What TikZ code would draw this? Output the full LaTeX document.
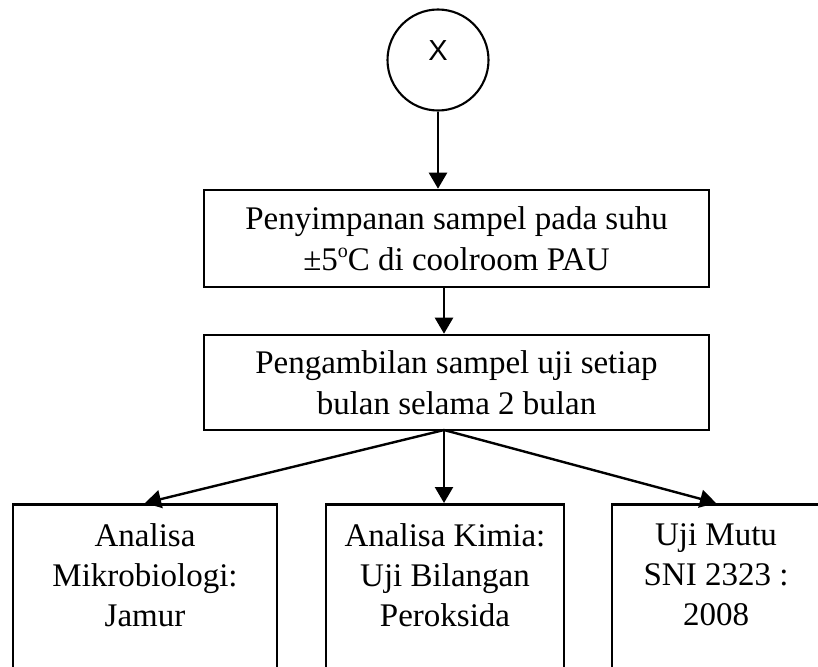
\documentclass[tikz,border=0pt]{standalone}
\usepackage{fontspec}
\setmainfont{Liberation Serif}
\newfontfamily\xsans{Liberation Sans}
\usetikzlibrary{arrows.meta}
\tikzset{
  flowbox/.style={draw, line width=2.6pt, inner sep=0pt, align=center,
    font=\fontsize{33}{41}\selectfont},
  openbox/.style={draw, line width=2.6pt, inner sep=0pt, anchor=north},
  boxtext/.style={inner sep=0pt, align=center, anchor=north,
    font=\fontsize{33}{40}\selectfont},
  flowarrow/.style={line width=2.4pt, -{Triangle[length=16pt,width=18pt]}}
}
\begin{document}
\begin{tikzpicture}[x=1pt,y=-1pt]
\useasboundingbox (0,0) rectangle (818,666);
\clip (0,0) rectangle (818,666);
\node[draw, circle, line width=2.1pt, minimum size=101pt, inner sep=0pt,
  text depth=19pt, font=\xsans\fontsize{29}{29}\selectfont] (c) at (438,60) {X};
\node[flowbox, minimum width=505pt, minimum height=97pt] (b1) at (456.5,238.5)
  {Penyimpanan sampel pada suhu\\ ±5\raisebox{13pt}{\fontsize{20}{20}\selectfont o}C di coolroom PAU};
\node[flowbox, minimum width=505pt, minimum height=95pt] (b2) at (456.5,382.5)
  {Pengambilan sampel uji setiap\\ bulan selama 2 bulan};
\node[openbox, minimum width=264pt, minimum height=200pt] (m1) at (145,503) {};
\node[openbox, minimum width=238pt, minimum height=200pt] (m2) at (445,503) {};
\node[openbox, minimum width=208pt, minimum height=200pt] (m3) at (716,503) {};
\node[boxtext] (t1) at ([yshift=-20.5pt]m1.north) {Analisa\\ Mikrobiologi:\\ Jamur};
\node[boxtext] (t2) at ([yshift=-20.5pt]m2.north) {Analisa Kimia:\\ Uji Bilangan\\ Peroksida};
\node[boxtext] (t3) at ([yshift=-20.5pt]m3.north) {Uji Mutu\\ SNI 2323 :\\ 2008};
\coordinate (s) at (444,430);
\draw[flowarrow] (c.south) -- (c.south |- b1.north);
\draw[flowarrow] (s |- b1.south) -- (s |- b2.north);
\draw[flowarrow] (s) -- (m1.north);
\draw[flowarrow] (s) -- (s |- m2.north);
\draw[flowarrow] (s) -- (m3.north);
\end{tikzpicture}
\end{document}
